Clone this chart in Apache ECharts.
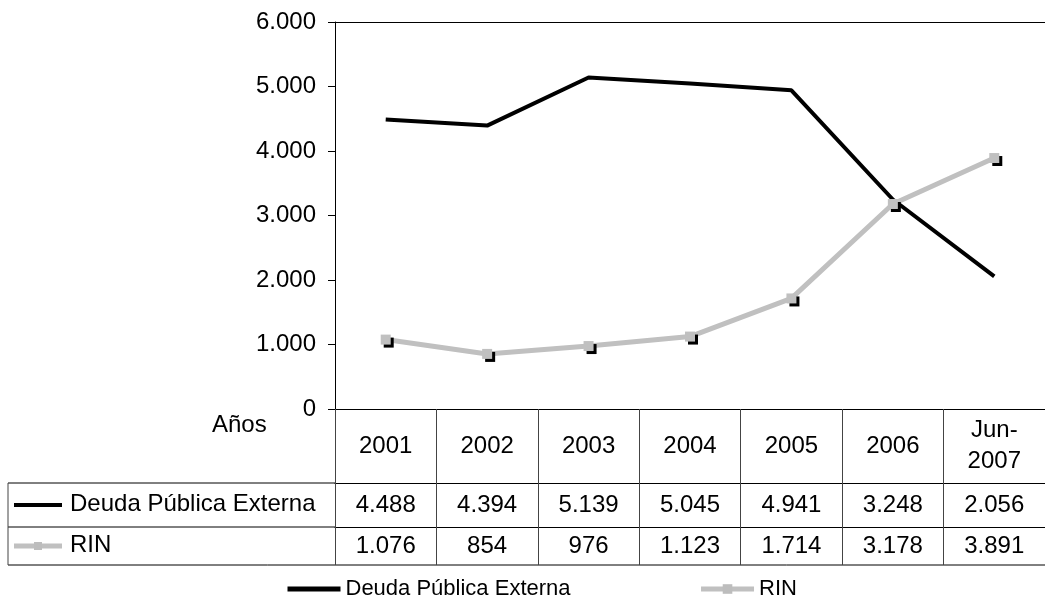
<!DOCTYPE html>
<html>
<head>
<meta charset="utf-8">
<script src="https://cdn.jsdelivr.net/npm/echarts@6/dist/echarts.min.js"></script>
<style>
  html, body { margin: 0; padding: 0; background: #fff; }
  #chart { width: 1045px; height: 598px; }
</style>
</head>
<body>
<div id="chart"></div>
<script>
// Categories and series values (millones de US$)
const years = ['2001', '2002', '2003', '2004', '2005', '2006', 'Jun-\n2007'];
const deuda = [4488, 4394, 5139, 5045, 4941, 3248, 2056];
const rin = [1076, 854, 976, 1123, 1714, 3178, 3891];
const seriesNames = ['Deuda Pública Externa', 'RIN'];
const yTicks = { min: 0, max: 6000, step: 1000 };

const FONT = '"Liberation Sans", Arial, sans-serif';
const GREY = '#c0c0c0';

// Spanish thousands separator: 4488 -> "4.488"
function fmt(n) {
  return String(n).replace(/\B(?=(\d{3})+(?!\d))/g, '.');
}

// Plot and table geometry
const plotLeft = 335, plotTop = 22, plotBottom = 409, plotRight = 1046;
const row1 = 483, row2 = 527, tableBottom = 565, tableLeft = 8;

const chart = echarts.init(document.getElementById('chart'), null, { renderer: 'canvas' });

const baseLabel = { fontFamily: FONT, fontSize: 24, color: '#000' };

const option = {
  animation: false,
  backgroundColor: '#fff',
  textStyle: { fontFamily: FONT },
  grid: {
    left: plotLeft,
    right: 1045 - plotRight,
    top: plotTop,
    bottom: 598 - plotBottom,
    containLabel: false
  },
  legend: {
    data: [
      {
        name: seriesNames[0],
        itemStyle: { color: 'transparent', borderWidth: 0, opacity: 0 },
        lineStyle: { width: 5, color: '#000' }
      },
      {
        name: seriesNames[1],
        itemStyle: { color: '#bdbdbd', borderWidth: 0, shadowOffsetX: 0, shadowOffsetY: 0, shadowColor: 'transparent' },
        lineStyle: { width: 5, color: GREY }
      }
    ],
    left: 280,
    top: 573,
    itemWidth: 53,
    itemHeight: 12,
    itemGap: 128,
    textStyle: { fontFamily: FONT, fontSize: 22, color: '#000' }
  },
  xAxis: [
    {
      // Year header row; ticks run down as the table's column borders
      type: 'category',
      data: years,
      boundaryGap: true,
      position: 'bottom',
      axisLine: { show: true, lineStyle: { color: '#000', width: 1 } },
      axisTick: { show: true, interval: 0, length: tableBottom - plotBottom, lineStyle: { color: '#444', width: 1 } },
      axisLabel: Object.assign({}, baseLabel, {
        interval: 0, margin: (row1 - plotBottom) / 2, verticalAlign: 'middle', lineHeight: 31, align: 'center'
      }),
      splitLine: { show: false }
    },
    {
      // Row: Deuda Pública Externa
      type: 'category',
      data: deuda.map(fmt),
      position: 'bottom',
      offset: row1 - plotBottom,
      axisLine: { show: true, lineStyle: { color: '#000', width: 1 } },
      axisTick: { show: false },
      axisLabel: Object.assign({}, baseLabel, {
        interval: 0, margin: (row2 - row1) / 2, verticalAlign: 'middle'
      }),
      splitLine: { show: false }
    },
    {
      // Row: RIN
      type: 'category',
      data: rin.map(fmt),
      position: 'bottom',
      offset: row2 - plotBottom,
      axisLine: { show: true, lineStyle: { color: '#000', width: 1 } },
      axisTick: { show: false },
      axisLabel: Object.assign({}, baseLabel, {
        interval: 0, margin: (tableBottom - row2) / 2, verticalAlign: 'middle'
      }),
      splitLine: { show: false }
    },
    {
      // Top border of the plot area
      type: 'category',
      data: years,
      position: 'top',
      axisLine: { show: true, lineStyle: { color: '#000', width: 1 } },
      axisTick: { show: false },
      axisLabel: { show: false },
      splitLine: { show: false }
    }
  ],
  yAxis: {
    type: 'value',
    min: yTicks.min,
    max: yTicks.max,
    interval: yTicks.step,
    axisLine: { show: true, lineStyle: { color: '#000', width: 1 } },
    axisTick: { show: true, length: 7, lineStyle: { color: '#000', width: 1 } },
    axisLabel: Object.assign({}, baseLabel, { margin: 19, formatter: v => fmt(v) }),
    splitLine: { show: false }
  },
  series: [
    {
      name: seriesNames[0],
      type: 'line',
      xAxisIndex: 0,
      data: deuda,
      symbol: 'none',
      lineStyle: { color: '#000', width: 4 },
      itemStyle: { color: '#000' },
      z: 2
    },
    {
      name: seriesNames[1],
      type: 'line',
      xAxisIndex: 0,
      data: rin,
      symbol: 'rect',
      symbolSize: 10,
      showSymbol: true,
      lineStyle: { color: GREY, width: 5 },
      itemStyle: {
        color: GREY,
        shadowColor: '#000',
        shadowBlur: 0,
        shadowOffsetX: 3,
        shadowOffsetY: 3
      },
      z: 3
    }
  ],
  graphic: [
    // Row header cell borders of the data table
    { type: 'line', shape: { x1: tableLeft, y1: row1, x2: plotLeft, y2: row1 }, style: { stroke: '#000', lineWidth: 1 } },
    { type: 'line', shape: { x1: tableLeft, y1: row2, x2: plotLeft, y2: row2 }, style: { stroke: '#000', lineWidth: 1 } },
    { type: 'line', shape: { x1: tableLeft, y1: tableBottom, x2: plotRight, y2: tableBottom }, style: { stroke: '#000', lineWidth: 1 } },
    { type: 'line', shape: { x1: tableLeft, y1: row1, x2: tableLeft, y2: tableBottom }, style: { stroke: '#444', lineWidth: 1 } },
    // Row keys
    { type: 'line', shape: { x1: 14, y1: (row1 + row2) / 2, x2: 62, y2: (row1 + row2) / 2 }, style: { stroke: '#000', lineWidth: 4 } },
    { type: 'line', shape: { x1: 14, y1: (row2 + tableBottom) / 2, x2: 62, y2: (row2 + tableBottom) / 2 }, style: { stroke: GREY, lineWidth: 5 } },
    { type: 'rect', shape: { x: 34, y: (row2 + tableBottom) / 2 - 4, width: 8, height: 8 }, style: { fill: '#bdbdbd' } },
    // Row titles
    { type: 'text', left: 70, top: (row1 + row2) / 2 - 13, style: { text: seriesNames[0], font: '24px ' + FONT, fill: '#000' } },
    { type: 'text', left: 70, top: (row2 + tableBottom) / 2 - 13, style: { text: seriesNames[1], font: '24px ' + FONT, fill: '#000' } },
    // Header cell label
    { type: 'text', left: 212, top: 413, style: { text: 'Años', font: '24px ' + FONT, fill: '#000' } }
  ]
};

chart.setOption(option);
</script>
</body>
</html>
